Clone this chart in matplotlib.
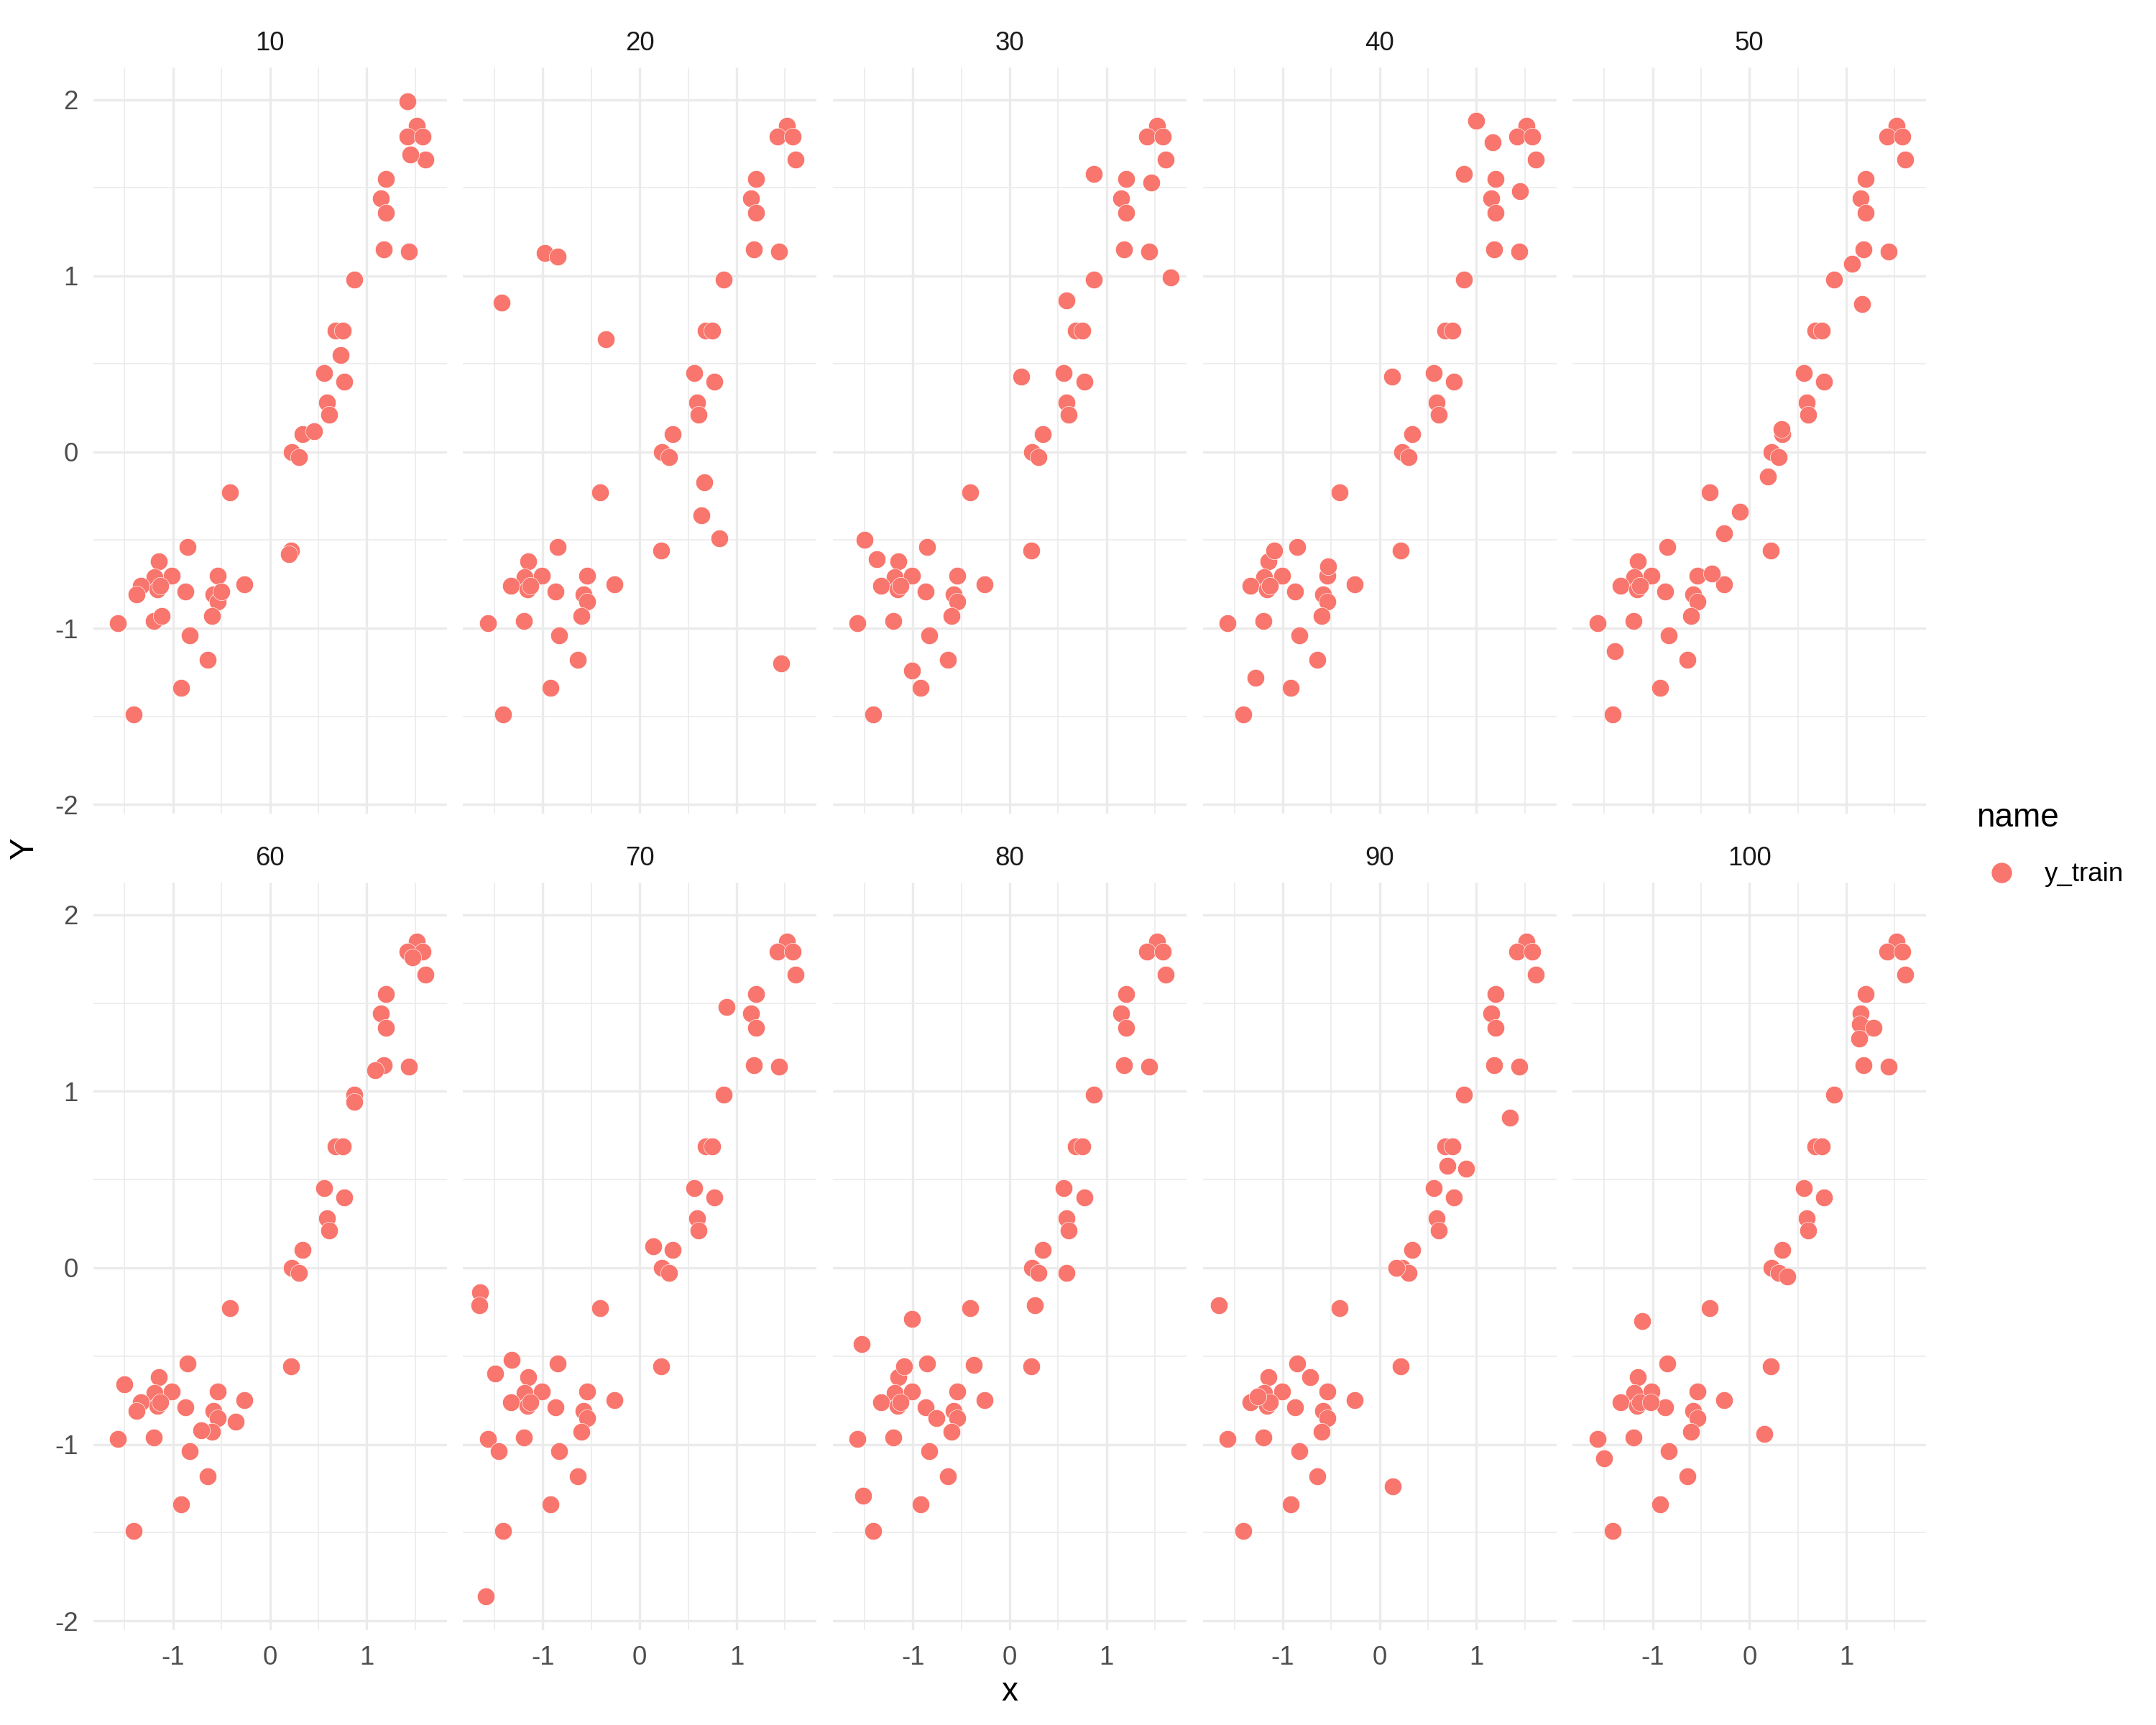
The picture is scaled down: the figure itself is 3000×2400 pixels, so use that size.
import matplotlib.pyplot as plt
from matplotlib.lines import Line2D

plt.rcParams['font.family'] = ['Liberation Sans', 'DejaVu Sans']
plt.rcParams['axes.unicode_minus'] = False

# facet labels
panel_labels = [10, 20, 30, 40, 50, 60, 70, 80, 90, 100]

# points shared by every facet
core_x = [1.52, 1.42, 1.58, 1.61, 1.20, 1.15, 1.20, 1.18, 1.44, 0.87,
          0.68, 0.75, 0.56, 0.77, 0.59, 0.61, 0.34, 0.23, 0.30, -0.41,
          0.22, -0.85, -1.15, -1.19, -1.01, -1.33, -1.16, -1.13, -0.87, -0.54,
          -0.26, -0.58, -0.54, -0.60, -1.57, -1.20, -0.83, -0.64, -0.92, -1.41]
core_y = [1.85, 1.79, 1.79, 1.66, 1.55, 1.44, 1.36, 1.15, 1.14, 0.98,
          0.69, 0.69, 0.45, 0.40, 0.28, 0.21, 0.10, 0.00, -0.03, -0.23,
          -0.56, -0.54, -0.62, -0.71, -0.70, -0.76, -0.78, -0.76, -0.79, -0.70,
          -0.75, -0.81, -0.85, -0.93, -0.97, -0.96, -1.04, -1.18, -1.34, -1.49]

# extra points for each facet (same order as panel_labels)
extra_x = [
    [1.42, 1.45, 0.73, 0.46, 0.20, -1.38, -0.50, -1.12],
    [-0.98, -0.85, -1.43, -0.35, 0.67, 0.64, 0.82, 1.46],
    [0.87, 1.46, 1.66, 0.59, 0.12, -1.50, -1.37, -1.01],
    [1.00, 1.17, 0.87, 1.45, 0.13, -1.09, -0.53, -1.28],
    [1.06, 1.16, 0.33, 0.19, -0.10, -0.26, -0.39, -1.39],
    [1.47, 1.09, 0.87, -1.50, -1.38, -0.71, -0.35],
    [0.90, 0.14, -1.65, -1.66, -1.32, -1.49, -1.46, -1.59],
    [0.59, 0.26, -1.01, -1.53, -1.09, -0.37, -0.76, -1.51],
    [1.35, 0.70, 0.89, 0.17, -1.66, -0.72, -1.26, 0.14],
    [1.14, 1.28, 1.13, 0.39, -1.11, -1.02, 0.15, -1.50],
]
extra_y = [
    [1.99, 1.69, 0.55, 0.12, -0.58, -0.81, -0.79, -0.93],
    [1.13, 1.11, 0.85, 0.64, -0.17, -0.36, -0.49, -1.20],
    [1.58, 1.53, 0.99, 0.86, 0.43, -0.50, -0.61, -1.24],
    [1.88, 1.76, 1.58, 1.48, 0.43, -0.56, -0.65, -1.28],
    [1.07, 0.84, 0.13, -0.14, -0.34, -0.46, -0.69, -1.13],
    [1.76, 1.12, 0.94, -0.66, -0.81, -0.92, -0.87],
    [1.48, 0.12, -0.14, -0.21, -0.52, -0.60, -1.04, -1.86],
    [-0.03, -0.21, -0.29, -0.43, -0.56, -0.55, -0.85, -1.29],
    [0.85, 0.58, 0.56, 0.00, -0.21, -0.62, -0.73, -1.24],
    [1.38, 1.36, 1.30, -0.05, -0.30, -0.76, -0.94, -1.08],
]

x_major = [-1, 0, 1]
x_minor = [-1.5, -0.5, 0.5, 1.5]
y_major = [-2, -1, 0, 1, 2]
y_minor = [-1.5, -0.5, 0.5, 1.5]

point_color = '#F8766D'
grid_color = '#EBEBEB'

# shared scales with ggplot's 5% expansion
all_x = core_x + sum(extra_x, [])
all_y = core_y + sum(extra_y, [])
xpad = 0.05 * (max(all_x) - min(all_x))
ypad = 0.05 * (max(all_y) - min(all_y))
xlim = (min(all_x) - xpad, max(all_x) + xpad)
ylim = (min(all_y) - ypad, max(all_y) + ypad)

W, H = 3000, 2400
fig = plt.figure(figsize=(10, 8), dpi=300)

row_box = [(94, 1132), (1228, 2268)]  # top / bottom pixel of each row
for i, lab in enumerate(panel_labels):
    row, col = divmod(i, 5)
    top, bot = row_box[row]
    ax = fig.add_axes([(129.5 + 514.7 * col) / W, 1 - bot / H, 492 / W, (bot - top) / H])
    ax.scatter(core_x + extra_x[i], core_y + extra_y[i], s=34, color=point_color,
               edgecolors='white', linewidths=0.15, zorder=3)
    ax.set_xlim(xlim)
    ax.set_ylim(ylim)
    ax.set_xticks(x_major)
    ax.set_xticks(x_minor, minor=True)
    ax.set_yticks(y_major)
    ax.set_yticks(y_minor, minor=True)
    ax.grid(which='major', color=grid_color, linewidth=0.8)
    ax.grid(which='minor', color=grid_color, linewidth=0.4)
    ax.set_axisbelow(True)
    for s in ax.spines.values():
        s.set_visible(False)
    ax.tick_params(which='both', length=0, labelsize=8.8, labelcolor='#4D4D4D', pad=5)
    ax.tick_params(labelleft=(col == 0), labelbottom=(row == 1))
    ax.text(0.5, 1.032, str(lab), transform=ax.transAxes, ha='center', va='center',
            fontsize=8.8, color='#1A1A1A')

# axis titles
fig.text(1405 / W, 1 - 2354 / H, 'x', ha='center', va='center', fontsize=11)
fig.text(34 / W, 1 - 1181 / H, 'Y', ha='center', va='center', rotation=90, fontsize=11)

# legend
fig.text(2750 / W, 1 - 1138 / H, 'name', ha='left', va='center', fontsize=11)
fig.add_artist(Line2D([2785 / W], [1 - 1214 / H], transform=fig.transFigure, marker='o',
                      markersize=5.8, color=point_color, linestyle='none'))
fig.text(2845 / W, 1 - 1217 / H, 'y_train', ha='left', va='center', fontsize=8.8)

fig.savefig('out.png', dpi=300, facecolor='white')
